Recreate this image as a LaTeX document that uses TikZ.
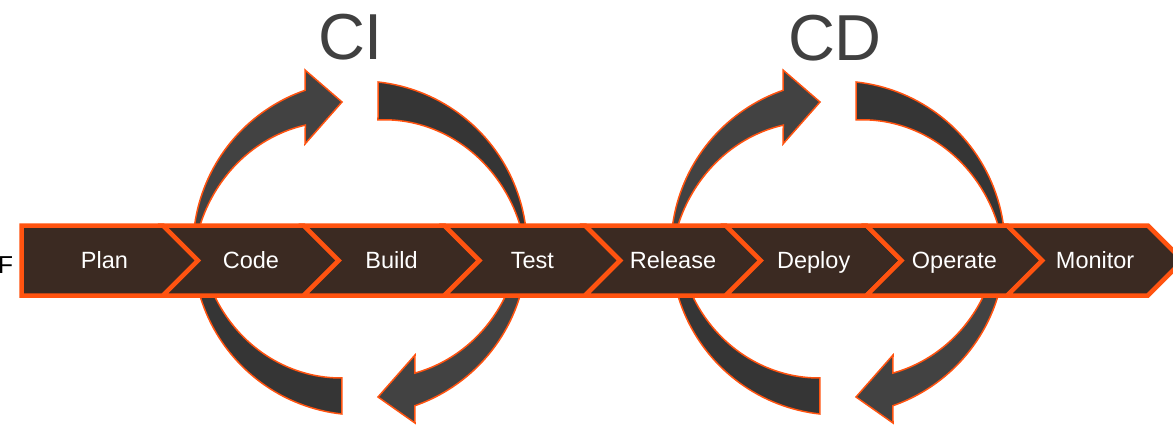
\documentclass[tikz,border=0pt]{standalone}
\usepackage{fontspec}
\setmainfont{Liberation Sans}
\definecolor{barfill}{HTML}{3B2A22}
\definecolor{orng}{HTML}{FF5310}
\definecolor{arrowfill}{HTML}{424242}
\definecolor{blockfill}{HTML}{353535}
\definecolor{titlegray}{HTML}{404040}
\tikzset{
  arrowshape/.style={fill=arrowfill, draw=orng, line width=1.5pt, line join=miter},
  blockshape/.style={fill=blockfill, draw=orng, line width=1.5pt},
  chevron/.style={fill=barfill, draw=orng, line width=4.5pt, line join=miter},
  steplabel/.style={text=white, font=\fontsize{23.5}{28}\selectfont, anchor=base, inner sep=0pt},
  bigtitle/.style={text=titlegray, font=\fontsize{65}{70}\selectfont, anchor=base, inner sep=0pt},
}
\newcommand\loopshapes[1]{%
  % top-left arrow
  \path[arrowshape] plot[domain=175:109.2, samples=40] ({#1+167*cos(\x)},{248-167*sin(\x)})
    -- ({#1-55},70) -- ({#1-18},102) -- ({#1-55},144)
    -- plot[domain=114:175, samples=40] ({#1+(167-(4+28.5*(175-\x)/61))*cos(\x)},{248-(167-(4+28.5*(175-\x)/61))*sin(\x)}) -- cycle;
  % top-right block
  \path[blockshape] plot[domain=83.8:5, samples=40] ({#1+167*cos(\x)},{248-167*sin(\x)})
    -- plot[domain=5:82, samples=40] ({#1+(167-(4+33.7*(\x-5)/77))*cos(\x)},{248-(167-(4+33.7*(\x-5)/77))*sin(\x)}) -- cycle;
  % bottom-left block
  \path[blockshape] plot[domain=190:263.8, samples=40] ({#1+167*cos(\x)},{248-167*sin(\x)})
    -- plot[domain=262.1:190, samples=40] ({#1+(167-(11+24.8*(\x-190)/72.1))*cos(\x)},{248-(167-(11+24.8*(\x-190)/72.1))*sin(\x)}) -- cycle;
  % bottom-right arrow
  \path[arrowshape] plot[domain=350:289.2, samples=40] ({#1+167*cos(\x)},{248-167*sin(\x)})
    -- ({#1+55},423) -- ({#1+18},397) -- ({#1+55},355)
    -- plot[domain=293.7:350, samples=40] ({#1+(167-(11+19.4*(350-\x)/56.3))*cos(\x)},{248-(167-(11+19.4*(350-\x)/56.3))*sin(\x)}) -- cycle;
}
\begin{document}
\begin{tikzpicture}[x=1pt, y=-1pt]
  \useasboundingbox (0,0) rectangle (1173,428);
  \clip (0,0) rectangle (1173,428);
  % loops
  \loopshapes{360}
  \loopshapes{838}
  % bar
  \path[chevron] (21.7,225.5) -- (163,225.5) -- (198,260.5) -- (163,295.5) -- (21.7,295.5) -- cycle;
  \foreach \xa in {163,303.7,444.4,585.1,725.8,866.5,1007.2}
    \path[chevron] (\xa,225.5) -- ({\xa+140.7},225.5) -- ({\xa+175.7},260.5) -- ({\xa+140.7},295.5) -- (\xa,295.5) -- ({\xa+35},260.5) -- cycle;
  % labels
  \node[steplabel] (plan) at (104.5,268) {Plan};
  \node[steplabel] (code) at (250.9,268) {Code};
  \node[steplabel] (build) at (391.6,268) {Build};
  \node[steplabel] (test) at (532.3,268) {Test};
  \node[steplabel] (release) at (673,268) {Release};
  \node[steplabel] (deploy) at (813.7,268) {Deploy};
  \node[steplabel] (operate) at (954.4,268) {Operate};
  \node[steplabel] (monitor) at (1095.1,268) {Monitor};
  \node[bigtitle] (ci) at (350.5,59.5) {CI};
  \node[bigtitle] (cd) at (835,60) {CD};
  \node[text=black, font=\fontsize{24.5}{28}\selectfont, anchor=base west, inner sep=0pt] (f) at (-2,273.3) {F};
\end{tikzpicture}
\end{document}
